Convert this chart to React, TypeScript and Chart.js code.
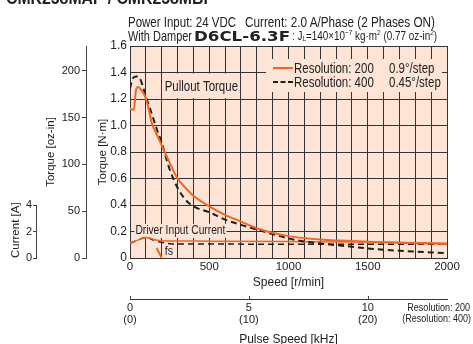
import React, { useEffect, useLayoutEffect, useRef } from 'react';
import { Chart, registerables } from 'chart.js';
Chart.register(...registerables);

const FONT = '"Liberation Sans", Arial, sans-serif';
const PEACH = '#fce5d6';
const ORANGE = '#f26522';
const DARK = '#1e1e1e';
const GRID = '#333333';
const TEXT = '#222';
const NARROW = 0.82;

// Pullout torque, Resolution 200 (N·m)
const speed200 = [0, 10, 25, 32, 38, 52, 70, 95, 115, 137, 170, 200, 250, 300, 350, 400, 500, 600, 700, 800, 900, 1000, 1100, 1200, 1300, 1400, 1500, 1600, 1700, 1800, 1900, 2000];
const torque200 = [1.13, 1.12, 1.12, 1.2, 1.27, 1.29, 1.27, 1.22, 1.14, 1.02, 0.93, 0.85, 0.72, 0.6, 0.53, 0.47, 0.39, 0.325, 0.275, 0.225, 0.19, 0.165, 0.15, 0.14, 0.133, 0.128, 0.123, 0.119, 0.116, 0.112, 0.109, 0.106];
// Pullout torque, Resolution 400 (N·m)
const speed400 = [0, 10, 20, 40, 60, 80, 100, 137, 170, 200, 250, 300, 350, 400, 500, 600, 700, 800, 900, 1000, 1100, 1200, 1300, 1400, 1500, 1600, 1700, 1800, 1900, 2000];
const torque400 = [1.28, 1.33, 1.36, 1.37, 1.36, 1.3, 1.22, 1.09, 0.97, 0.87, 0.67, 0.53, 0.44, 0.39, 0.345, 0.29, 0.25, 0.215, 0.18, 0.148, 0.125, 0.11, 0.097, 0.085, 0.072, 0.062, 0.055, 0.048, 0.042, 0.037];
// Driver input current (A)
const currentSpeed200 = [0, 50, 100, 150, 200, 300, 500, 1000, 1500, 2000];
const current200 = [1.1, 1.35, 1.55, 1.4, 1.3, 1.28, 1.27, 1.24, 1.2, 1.12];
const currentSpeed400 = [0, 50, 100, 150, 200, 250, 300, 500, 1000, 1500, 2000];
const current400 = [1.1, 1.35, 1.55, 1.35, 1.18, 1.08, 1.05, 1.05, 1.04, 1.03, 1.03];
// Starting pulse rate marker (fs)
const fsSpeed = [168, 200];
const fsTorque = [0.075, 0];

const ozTicks = [0, 50, 100, 150, 200];
const currentTicks = [0, 2, 4];
const pulseTickSpeeds = [0, 750, 1500];
const pulseLabels200 = ['0', '5', '10'];
const pulseLabels400 = ['(0)', '(10)', '(20)'];
const legendRes = ['Resolution: 200', 'Resolution: 400'];
const legendStep = ['0.9°/step', '0.45°/step'];

const NM_TO_OZIN = 141.612;

const pts = (xs: number[], ys: number[]) => xs.map((x, i) => ({ x, y: ys[i] }));

function narrowText(ctx: CanvasRenderingContext2D, text: string, x: number, y: number, size: number, align: CanvasTextAlign = 'left') {
  ctx.save();
  ctx.font = `${size}px ${FONT}`;
  ctx.textBaseline = 'middle';
  ctx.textAlign = align;
  ctx.fillStyle = TEXT;
  ctx.translate(x, y);
  ctx.scale(NARROW, 1);
  ctx.fillText(text, 0, 0);
  ctx.restore();
}
function narrowWidth(ctx: CanvasRenderingContext2D, text: string, size: number) {
  ctx.save();
  ctx.font = `${size}px ${FONT}`;
  const w = ctx.measureText(text).width * NARROW;
  ctx.restore();
  return w;
}

const decor = {
  id: 'decor',
  beforeDraw(chart: any) {
    const { ctx, chartArea: a } = chart;
    ctx.save();
    ctx.fillStyle = PEACH;
    ctx.fillRect(a.left, a.top, a.right - a.left, a.bottom - a.top);
    ctx.restore();
  },
  beforeDatasetsDraw(chart: any) {
    const { ctx, chartArea: a, scales } = chart;
    const x = scales.x, y = scales.y;
    ctx.save();
    // Pullout Torque label
    {
      const cx = x.getPixelForValue(450), cy = y.getPixelForValue(1.29);
      const w = narrowWidth(ctx, 'Pullout Torque', 14) + 4;
      const top = y.getPixelForValue(1.4) + 1, bot = y.getPixelForValue(1.2) - 1;
      ctx.fillStyle = PEACH;
      ctx.fillRect(cx - w / 2, top, w, bot - top);
      narrowText(ctx, 'Pullout Torque', cx, cy, 14, 'center');
    }
    // Driver Input Current label
    {
      const cx = x.getPixelForValue(318), cy = y.getPixelForValue(0.205);
      const w = narrowWidth(ctx, 'Driver Input Current', 12.5) + 2;
      ctx.fillStyle = PEACH;
      ctx.fillRect(cx - w / 2, cy - 7, w, 14);
      narrowText(ctx, 'Driver Input Current', cx, cy, 12.5, 'center');
    }
    // fs label
    {
      const cx = x.getPixelForValue(245), cy = y.getPixelForValue(0.05);
      ctx.fillStyle = PEACH;
      ctx.fillRect(cx - 5, cy - 6, 10, 12);
      narrowText(ctx, 'fs', cx, cy, 13, 'center');
    }
    // Legend box background
    ctx.fillStyle = PEACH;
    ctx.fillRect(a.right - 181, a.top + 13, 176, 33);
    ctx.restore();
  },
  afterDatasetsDraw(chart: any) {
    const { ctx, chartArea: a, scales } = chart;
    ctx.save();
    const lx = a.right - 181, ly = a.top + 13;
    const rows = [ly + 9, ly + 23];
    [0, 1].forEach((i) => {
      const ds = chart.data.datasets[i];
      ctx.strokeStyle = ds.borderColor;
      ctx.lineWidth = 2;
      ctx.setLineDash(i === 0 ? [] : [5, 2.5]);
      ctx.beginPath();
      ctx.moveTo(lx + 7, rows[i]);
      ctx.lineTo(lx + 27, rows[i]);
      ctx.stroke();
      ctx.setLineDash([]);
      narrowText(ctx, legendRes[i], lx + 28, rows[i] + 1, 14);
      narrowText(ctx, legendStep[i], lx + 123, rows[i] + 1, 14);
    });
    // current axis line (0..4 A)
    const yA = scales.yA;
    ctx.strokeStyle = '#444';
    ctx.lineWidth = 1;
    ctx.beginPath();
    ctx.moveTo(Math.round(yA.right) - 0.5, yA.getPixelForValue(4));
    ctx.lineTo(Math.round(yA.right) - 0.5, yA.getPixelForValue(0));
    ctx.stroke();
    // pulse axis tick marks (upwards)
    const x2 = scales.x2;
    pulseTickSpeeds.forEach((v) => {
      const px = Math.round(x2.getPixelForValue(v)) + 0.5;
      ctx.beginPath();
      ctx.moveTo(px, x2.top - 3);
      ctx.lineTo(px, x2.top);
      ctx.stroke();
    });
    // resolution note
    narrowText(ctx, 'Resolution: 200', 470, x2.top + 9, 11, 'right');
    narrowText(ctx, '(Resolution: 400)', 471, x2.top + 20, 11, 'right');
    ctx.restore();
  },
};

function FitText(props: { left: number; top: number; width: number; size: number; weight?: number; family?: string; children: React.ReactNode }) {
  const ref = useRef<HTMLSpanElement>(null);
  useLayoutEffect(() => {
    const el = ref.current;
    if (!el) return;
    el.style.transform = 'none';
    const w = el.getBoundingClientRect().width;
    if (w > 0) el.style.transform = `scaleX(${props.width / w})`;
  }, []);
  return (
    <span
      ref={ref}
      style={{
        position: 'absolute', left: props.left, top: props.top, whiteSpace: 'nowrap', transformOrigin: 'left top',
        fontSize: props.size, lineHeight: `${props.size}px`, fontWeight: props.weight || 400,
        fontFamily: props.family || FONT, color: TEXT,
      }}
    >
      {props.children}
    </span>
  );
}

export default function App() {
  const ref = useRef<HTMLCanvasElement>(null);
  useEffect(() => {
    const tickFont = { family: FONT, size: 11.5, lineHeight: 1.1 };
    const titleFont = { family: FONT, size: 11.5 };
    const chart = new Chart(ref.current as HTMLCanvasElement, {
      type: 'line',
      data: {
        datasets: [
          { label: legendRes[0], data: pts(speed200, torque200), borderColor: ORANGE, borderWidth: 2, yAxisID: 'y', cubicInterpolationMode: 'monotone' } as any,
          { label: legendRes[1], data: pts(speed400, torque400), borderColor: DARK, borderWidth: 2, borderDash: [6, 4], yAxisID: 'y', cubicInterpolationMode: 'monotone' } as any,
          { label: 'Current 200', data: pts(currentSpeed200, current200), borderColor: ORANGE, borderWidth: 1.5, yAxisID: 'yA', cubicInterpolationMode: 'monotone' } as any,
          { label: 'Current 400', data: pts(currentSpeed400, current400), borderColor: DARK, borderWidth: 1.5, borderDash: [6, 4], yAxisID: 'yA', cubicInterpolationMode: 'monotone' } as any,
          { label: 'fs', data: pts(fsSpeed, fsTorque), borderColor: ORANGE, borderWidth: 2, yAxisID: 'y' } as any,
        ],
      },
      options: {
        animation: false,
        responsive: false,
        devicePixelRatio: 1,
        parsing: false as any,
        elements: { point: { radius: 0 }, line: { fill: false } },
        layout: { padding: { top: 46, right: 26, bottom: 0, left: 0 } },
        plugins: { legend: { display: false }, tooltip: { enabled: false }, title: { display: false } },
        scales: {
          x: {
            type: 'linear', position: 'bottom', weight: 0, min: 0, max: 2000,
            afterBuildTicks: (s: any) => { s.ticks = Array.from({ length: 21 }, (_, i) => ({ value: i * 100 })); },
            afterFit: (s: any) => { s.height = 41; },
            ticks: { autoSkip: false, maxRotation: 0, padding: 2.7, color: TEXT, font: tickFont,
              callback: (v: any) => (Number(v) % 500 === 0 ? String(v) : '') },
            grid: { color: GRID, lineWidth: 1, drawTicks: false },
            border: { display: true, color: GRID },
            title: { display: true, text: 'Speed [r/min]', color: TEXT, font: { family: FONT, size: 12 }, padding: { top: 0, bottom: 8.8 } },
          },
          x2: {
            type: 'linear', position: 'bottom', weight: 1, min: 0, max: 2000,
            afterBuildTicks: (s: any) => { s.ticks = pulseTickSpeeds.map((v) => ({ value: v })); },
            afterFit: (s: any) => { s.height = 45; },
            ticks: { autoSkip: false, maxRotation: 0, padding: 3.2, color: TEXT, font: { family: FONT, size: 11, lineHeight: 1.05 },
              callback: (v: any) => { const i = pulseTickSpeeds.indexOf(Number(v)); return i < 0 ? '' : [pulseLabels200[i], pulseLabels400[i]]; } },
            grid: { display: true, drawOnChartArea: false, drawTicks: false },
            border: { display: true, color: '#333' },
            title: { display: true, text: 'Pulse Speed [kHz]', color: TEXT, font: { family: FONT, size: 12, lineHeight: 0.6 }, padding: { top: 0, bottom: 0.4 } },
          },
          y: {
            type: 'linear', position: 'left', weight: 0, min: 0, max: 1.6,
            afterBuildTicks: (s: any) => { s.ticks = Array.from({ length: 9 }, (_, i) => ({ value: Math.round(i * 2) / 10 })); },
            afterFit: (s: any) => { s.width = 44; },
            ticks: { padding: 3, color: TEXT, font: { family: FONT, size: 12 },
              callback: (v: any) => (Number(v) === 0 ? '0' : Number(v).toFixed(1)) },
            grid: { color: GRID, lineWidth: 1, drawTicks: false },
            border: { display: true, color: GRID },
            title: { display: true, text: 'Torque [N·m]', color: TEXT, font: titleFont, padding: { top: 9.6, bottom: 0 } },
          },
          yOz: {
            type: 'linear', position: 'left', weight: 1, min: 0, max: 1.6 * NM_TO_OZIN,
            afterBuildTicks: (s: any) => { s.ticks = ozTicks.map((v) => ({ value: v })); },
            afterFit: (s: any) => { s.width = 49; },
            ticks: { padding: 2, color: TEXT, font: { family: FONT, size: 11 } },
            grid: { display: true, drawOnChartArea: false, drawTicks: true, tickLength: 4, color: '#444' },
            border: { display: true, color: '#444' },
            title: { display: true, text: 'Torque [oz-in]', color: TEXT, font: titleFont, padding: { top: 7.1, bottom: 0 } },
          },
          yA: {
            type: 'linear', position: 'left', weight: 2, min: 0, max: 16,
            afterBuildTicks: (s: any) => { s.ticks = currentTicks.map((v) => ({ value: v })); },
            afterFit: (s: any) => { s.width = 37; },
            ticks: { padding: 1, color: TEXT, font: { family: FONT, size: 11 } },
            grid: { display: true, drawOnChartArea: false, drawTicks: true, tickLength: 4, color: '#444' },
            border: { display: false },
            title: { display: true, text: 'Current [A]', align: 'start', color: TEXT, font: titleFont, padding: { top: 9.1, bottom: 0 } },
          },
        } as any,
      },
      plugins: [decor],
    });
    return () => chart.destroy();
  }, []);

  const sup: React.CSSProperties = { fontSize: '0.65em', position: 'relative', top: -5 };
  const sub: React.CSSProperties = { fontSize: '0.65em', position: 'relative', top: 1 };
  return (
    <div style={{ position: 'absolute', left: 0, top: 0, width: 473, height: 344, overflow: 'hidden', background: '#fff' }}>
      <canvas ref={ref} width={473} height={344} style={{ display: 'block', position: 'absolute', left: 0, top: 0 }} />
      <FitText left={6} top={-11} width={208} size={18} weight={900}>CMK258MAP / CMK258MBP</FitText>
      <FitText left={128} top={15} width={108} size={14}>Power Input: 24 VDC</FitText>
      <FitText left={245} top={15} width={190} size={14}>Current: 2.0 A/Phase (2 Phases ON)</FitText>
      <FitText left={128} top={29} width={64} size={14}>With Damper</FitText>
      <FitText left={194} top={29} width={96} size={14} weight={900} family={'"DejaVu Sans", sans-serif'}>D6CL-6.3F</FitText>
      <FitText left={292} top={30} width={145} size={12.5}>
        : J<span style={sub}>L</span>=140×10<span style={sup}>−7</span> kg·m<span style={sup}>2</span> (0.77 oz-in<span style={sup}>2</span>)
      </FitText>
    </div>
  );
}
